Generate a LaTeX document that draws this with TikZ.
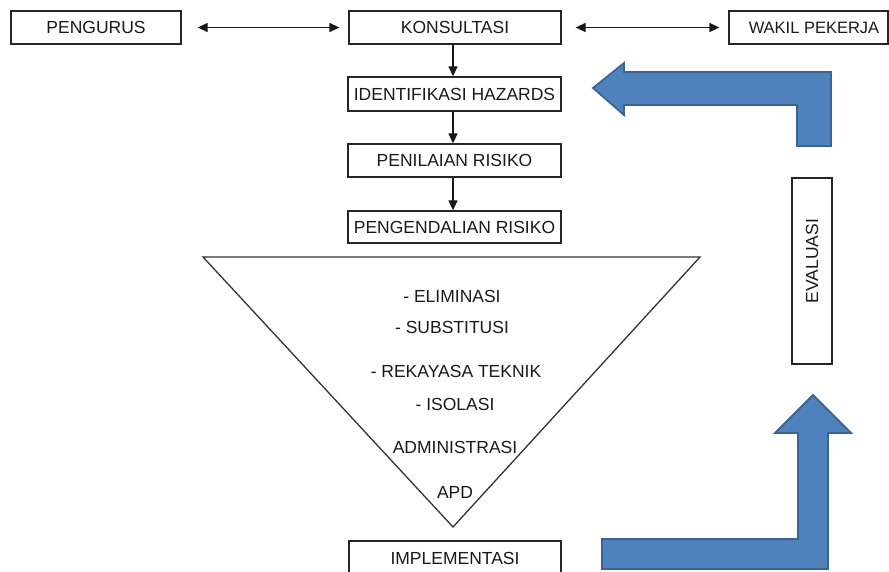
\documentclass[tikz,border=0pt]{standalone}
\usepackage{fontspec}
\setmainfont{Liberation Sans}
\usetikzlibrary{arrows.meta}
\definecolor{arrowblue}{HTML}{4F81BD}
\definecolor{arrowedge}{HTML}{3A6494}
\begin{document}
\begin{tikzpicture}[x=1pt,y=-1pt,
  every node/.style={font=\fontsize{17.5}{20}\selectfont, inner sep=0pt, text=black!90},
  box/.style={draw=black!85, line width=1.3pt, minimum height=33pt, anchor=center},
  conn/.style={line width=1.3pt, draw=black!90, -{Triangle[length=10pt,width=9pt]}},
  dconn/.style={line width=1.3pt, draw=black!90, {Triangle[length=10pt,width=9pt]}-{Triangle[length=10pt,width=9pt]}},
  bigarrow/.style={fill=arrowblue, draw=arrowedge, line width=1.8pt, line join=miter},
  tritext/.style={anchor=center}
]
\useasboundingbox (0,0) rectangle (889,572);
\clip (0,0) rectangle (889,572);

% boxes
\node[box, minimum width=170pt] (peng) at (96,27.5) {PENGURUS};
\node[box, minimum width=212pt] (kons) at (455,27.5) {KONSULTASI};
\node[box, minimum width=159pt] (wakil) at (808.5,27.5) {};
\node[anchor=center, font=\fontsize{16.5}{19}\selectfont] (wakiltext) at (814,27.5) {WAKIL PEKERJA};
\node[box, minimum width=213pt, minimum height=34pt] (ident) at (454.5,94) {IDENTIFIKASI HAZARDS};
\node[box, minimum width=213pt] (nilai) at (454.5,160.5) {PENILAIAN RISIKO};
\node[box, minimum width=213pt, minimum height=32pt] (kendali) at (454.5,227) {PENGENDALIAN RISIKO};
\node[box, minimum width=212pt, minimum height=34pt] (impl) at (455,558) {IMPLEMENTASI};
\node[box, minimum width=40pt, minimum height=186pt] (eval) at (812,271) {};
\node[rotate=90, anchor=center] (evaltext) at (812,261) {EVALUASI};

% connectors
\draw[dconn, shorten <=16pt, shorten >=9pt] (peng.east) -- (kons.west);
\draw[dconn, shorten <=14pt, shorten >=9pt] (kons.east) -- (wakil.west);
\draw[conn] (kons.south -| 453,0) -- (ident.north -| 453,0);
\draw[conn] (ident.south -| 453,0) -- (nilai.north -| 453,0);
\draw[conn] (nilai.south -| 453,0) -- (kendali.north -| 453,0);

% triangle
\coordinate (tl) at (203,257);
\coordinate (tr) at (700,257);
\coordinate (tb) at (453,527);
\draw[line width=1.3pt, draw=black!80, line join=miter] (tl) -- (tr) -- (tb) -- cycle;
\node[tritext] (t1) at (452,296) {- ELIMINASI};
\node[tritext] (t2) at (452,327) {- SUBSTITUSI};
\node[tritext] (t3) at (456,371) {- REKAYASA TEKNIK};
\node[tritext] (t4) at (455,404) {- ISOLASI};
\node[tritext] (t5) at (455,447) {ADMINISTRASI};
\node[tritext] (t6) at (455,492) {APD};

% big blue arrows
\draw[bigarrow] (593,88) -- (624,63) -- (624,72) -- (831,72) -- (831,146)
  -- (797,146) -- (797,105) -- (624,105) -- (624,115) -- cycle;
\draw[bigarrow] (602,539) -- (798,539) -- (798,433) -- (775,433) -- (813,395)
  -- (851,433) -- (828,433) -- (828,569) -- (602,569) -- cycle;
\end{tikzpicture}
\end{document}
